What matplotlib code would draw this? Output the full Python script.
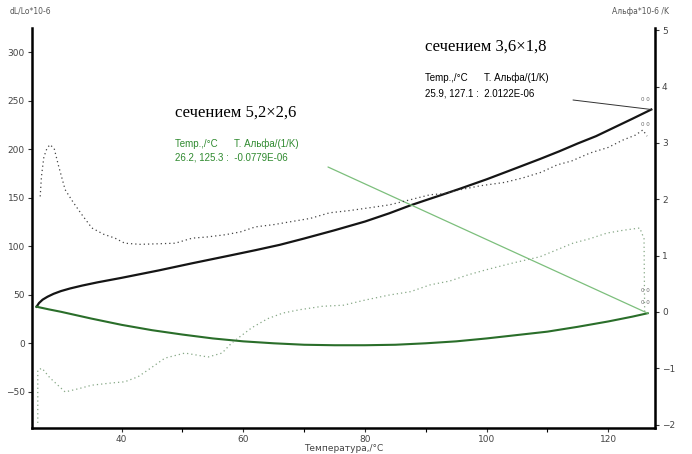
import numpy as np
import matplotlib
matplotlib.use('Agg')
import matplotlib.pyplot as plt

# dL/Lo*10^-6 (left axis)
t_dl1 = [26.0, 26.4, 27.0, 27.8, 28.8, 30.0, 31.5, 33.5, 36.0, 40.0, 46.0, 51.6, 57.8, 62.0, 66.0, 70.0, 75.0, 80.0,
         84.0, 87.4, 90.0, 92.4, 95.7, 100.0, 104.0, 108.8, 112.0, 115.0, 118.0, 120.0, 122.0, 124.0, 127.1]
dl1 = [37.7, 41.5, 45.0, 48.0, 51.0, 53.8, 56.5, 59.5, 62.8, 67.5, 75.0, 82.5, 90.5, 96.0, 101.5, 108.0, 116.5, 125.5,
       134.0, 142.0, 147.5, 152.5, 159.5, 169.0, 178.5, 190.0, 198.0, 206.0, 213.5, 219.5, 225.5, 231.5, 241.0]

t_dl2 = [26.0, 28, 30, 35, 40, 45, 50, 55, 60, 65, 70, 75, 80, 85, 90, 95, 100, 105, 110, 115, 120, 124, 126.5]
dl2 = [37.7, 35.0, 32.5, 25.5, 19.0, 13.5, 9, 5, 2, 0, -1.5, -2, -2, -1.5, 0, 2, 5, 8.5, 12, 17, 22.5, 27.5, 31]

# Alpha*10^-6 /K (right axis)
t_a1 = [26.6, 26.8, 27.2, 27.7, 28.2, 28.9, 29.6, 30.7, 32.0, 33.5, 35.1, 37.0, 38.9, 40.5, 43.0, 46.0, 48.8, 51.6, 54.0, 57.0,
        59.5, 62.0, 65.0, 67.7, 71.0, 74.2, 77.5, 80.8, 84.0, 87.4, 90.7, 93.0, 95.7, 99.0, 103.0, 106.0, 109.0,
        111.6, 114.0, 117.0, 120.0, 122.4, 124.5, 125.7, 126.4]
a1 = [2.05, 2.4, 2.75, 2.9, 2.97, 2.9, 2.6, 2.17, 1.95, 1.72, 1.49, 1.38, 1.31, 1.22, 1.2, 1.21, 1.22, 1.31, 1.33, 1.37,
      1.42, 1.51, 1.55, 1.6, 1.66, 1.76, 1.8, 1.85, 1.9, 1.99, 2.08, 2.1, 2.17, 2.24, 2.3, 2.38, 2.48,
      2.61, 2.68, 2.82, 2.92, 3.05, 3.14, 3.23, 3.12]

t_a2 = [26.2, 26.2, 26.9, 28.2, 30.7, 33.0, 35.1, 38.4, 40.5, 42.7, 45.0, 47.1, 50.4, 54.2, 56.5, 58.1, 61.4, 64.0,
        66.5, 69.3, 73.0, 76.5, 80.0, 84.0, 87.5, 90.7, 94.0, 97.0, 100.0, 104.0, 108.8, 111.5, 114.2, 117.0,
        119.8, 122.5, 125.2, 125.9, 126.0]
a2 = [-1.97, -1.03, -1.0, -1.17, -1.42, -1.36, -1.3, -1.26, -1.24, -1.15, -0.98, -0.82, -0.73, -0.8, -0.73, -0.55, -0.28, -0.12,
      -0.02, 0.04, 0.1, 0.12, 0.21, 0.3, 0.36, 0.48, 0.55, 0.66, 0.75, 0.86, 0.98, 1.1, 1.22, 1.3,
      1.4, 1.45, 1.49, 1.3, 0.0]

x_ticks = [40, 60, 80, 100, 120]
y_ticks = [-50, 0, 50, 100, 150, 200, 250, 300]
y2_ticks = [-2, -1, 0, 1, 2, 3, 4, 5]

green = '#2f8a2f'
fig = plt.figure(figsize=(6.92, 4.54), dpi=100)
ax = fig.add_axes([0.0458, 0.0573, 0.9007, 0.881])
ax2 = ax.twinx()

ax.plot(t_dl1, dl1, color='#151515', lw=1.6, zorder=3)
ax.plot(t_dl2, dl2, color='#2a6e2a', lw=1.5, zorder=3)
ax2.plot(t_a1, a1, color='#444444', lw=0.9, ls=(0, (1, 2.4)))
ax2.plot(t_a2, a2, color='#86a886', lw=0.9, ls=(0, (1, 2.4)))

ax.set_xlim(25.2, 127.7)
ax.set_ylim(-87.3, 325)
ax2.set_ylim(-2.06, 5.04)
ax.set_xticks(x_ticks)
ax.set_xticks([50, 70, 90, 110], minor=True)
ax.set_yticks(y_ticks)
ax2.set_yticks(y2_ticks)

for a in (ax, ax2):
    a.spines['top'].set_visible(False)
    a.tick_params(labelsize=6.5, length=3, width=0.8, colors='#333333', labelcolor='#444444', pad=2)
ax.tick_params(axis='x', which='minor', length=3, width=0.8)
ax.spines['left'].set_linewidth(1.8)
ax.spines['bottom'].set_linewidth(1.8)
ax2.spines['right'].set_linewidth(1.8)
ax2.spines['left'].set_visible(False)
ax2.spines['bottom'].set_visible(False)

ax.set_xlabel('Температура,/°C', fontsize=6.5, color='#444444', labelpad=0)
fig.text(0.014, 0.975, 'dL/Lo*10-6', fontsize=5.5, color='#555555', va='center')
fig.text(0.885, 0.975, 'Альфа*10-6 /K', fontsize=5.5, color='#555555', va='center')

# annotations
fig.text(425 / 692, 1 - 47 / 454, 'сечением 3,6×1,8', fontsize=12, family='Liberation Serif', va='center')
fig.text(425 / 692, 1 - 78 / 454, 'Temp.,/°C      T. Альфа/(1/K)', fontsize=7, family='Liberation Sans', va='center')
fig.text(425 / 692, 1 - 93 / 454, '25.9, 127.1 :  2.0122E-06', fontsize=7, family='Liberation Sans', va='center')
fig.text(175 / 692, 1 - 113 / 454, 'сечением 5,2×2,6', fontsize=12, family='Liberation Serif', va='center')
fig.text(175 / 692, 1 - 144 / 454, 'Temp.,/°C      T. Альфа/(1/K)', fontsize=7, family='Liberation Sans', va='center', color=green)
fig.text(175 / 692, 1 - 158 / 454, '26.2, 125.3 :  -0.0779E-06', fontsize=7, family='Liberation Sans', va='center', color=green)

# leader lines from labels to curve ends
ax.annotate('', xy=(t_dl1[-1], dl1[-1]), xytext=(573 / 692, 1 - 100 / 454), textcoords='figure fraction',
            arrowprops=dict(arrowstyle='-', color='#333333', lw=0.7, shrinkA=0, shrinkB=0))
ax.annotate('', xy=(t_dl2[-1], dl2[-1]), xytext=(328 / 692, 1 - 167 / 454), textcoords='figure fraction',
            arrowprops=dict(arrowstyle='-', color='#7cbf7c', lw=0.9, shrinkA=0, shrinkB=0))

# small end markers
for xx, yy in [(645, 100), (645, 124), (645, 290), (645, 302)]:
    fig.text(xx / 692, 1 - yy / 454, '0 0', fontsize=4, color='#666666', ha='center', va='center')

fig.savefig('out.png', dpi=100)
